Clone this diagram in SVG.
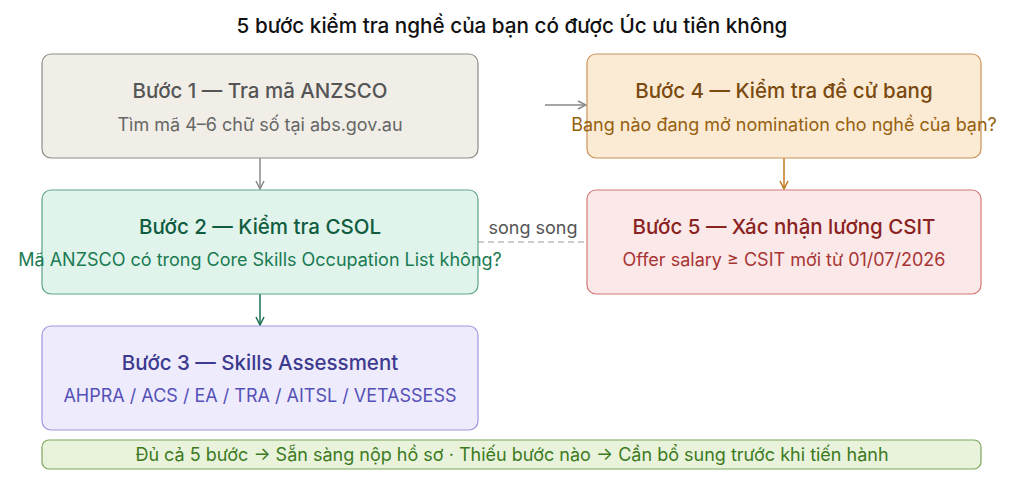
<svg xmlns="http://www.w3.org/2000/svg" width="1024" height="485" viewBox="0 0 1024 485">
<style>
text{font-family:Inter,"Liberation Sans",Arial,sans-serif;text-anchor:middle}
.h{font-size:20.7px;font-weight:500}
.t{font-size:20.5px;font-weight:500}
.s{font-size:18px}
.box{stroke-width:1.2}
</style>
<defs>
<marker id="ag" viewBox="0 0 10 10" refX="9" refY="5" markerWidth="10" markerHeight="10" markerUnits="userSpaceOnUse" orient="auto"><path d="M1,1 L9,5 L1,9" fill="none" stroke="#888" stroke-width="1.5"/></marker>
<marker id="ao" viewBox="0 0 10 10" refX="9" refY="5" markerWidth="10" markerHeight="10" markerUnits="userSpaceOnUse" orient="auto"><path d="M1,1 L9,5 L1,9" fill="none" stroke="#c07a20" stroke-width="1.5"/></marker>
<marker id="agr" viewBox="0 0 10 10" refX="9" refY="5" markerWidth="10" markerHeight="10" markerUnits="userSpaceOnUse" orient="auto"><path d="M1,1 L9,5 L1,9" fill="none" stroke="#1a7050" stroke-width="1.5"/></marker>
</defs>
<rect width="1024" height="485" fill="#ffffff"/>
<text x="512" y="33" class="h" fill="#111">5 bước kiểm tra nghề của bạn có được Úc ưu tiên không</text>
<g id="connectors">
<line x1="260" y1="158" x2="260" y2="189" stroke="#888" stroke-width="1.5" marker-end="url(#ag)"/>
<line x1="545" y1="105" x2="586" y2="105" stroke="#888" stroke-width="1.5" marker-end="url(#ag)"/>
<line x1="784" y1="158" x2="784" y2="189" stroke="#c07a20" stroke-width="1.5" marker-end="url(#ao)"/>
<line x1="260" y1="294" x2="260" y2="325" stroke="#1a7050" stroke-width="1.5" marker-end="url(#agr)"/>
<line x1="478" y1="242" x2="587" y2="242" stroke="#999" stroke-width="1.2" stroke-dasharray="6,4"/>
<text x="533" y="234" class="s" fill="#555">song song</text>
</g>
<g id="step1">
<rect x="42" y="54" width="436" height="104" rx="9" fill="#f1eee8" stroke="#8f8c86" class="box"/>
<text x="260" y="98" class="t" fill="#555">Bước 1 — Tra mã ANZSCO</text>
<text x="260" y="131" class="s" fill="#666">Tìm mã 4–6 chữ số tại abs.gov.au</text>
</g>
<g id="step4">
<rect x="587" y="54" width="394" height="104" rx="9" fill="#fcebd4" stroke="#c89458" class="box"/>
<text x="784" y="98" class="t" fill="#7a4a10">Bước 4 — Kiểm tra đề cử bang</text>
<text x="784" y="131" class="s" fill="#96600f">Bang nào đang mở nomination cho nghề của bạn?</text>
</g>
<g id="step2">
<rect x="42" y="190" width="436" height="104" rx="9" fill="#e0f4ec" stroke="#5fa585" class="box"/>
<text x="260" y="234" class="t" fill="#105c40">Bước 2 — Kiểm tra CSOL</text>
<text x="260" y="266" class="s" fill="#1a7a52">Mã ANZSCO có trong Core Skills Occupation List không?</text>
</g>
<g id="step5">
<rect x="587" y="190" width="394" height="104" rx="9" fill="#fbe8e8" stroke="#d27878" class="box"/>
<text x="784" y="234" class="t" fill="#8a2222">Bước 5 — Xác nhận lương CSIT</text>
<text x="784" y="266" class="s" fill="#a83535">Offer salary ≥ CSIT mới từ 01/07/2026</text>
</g>
<g id="step3">
<rect x="42" y="326" width="436" height="104" rx="9" fill="#eeecfc" stroke="#9c97e0" class="box"/>
<text x="260" y="370" class="t" fill="#3d3a8f">Bước 3 — Skills Assessment</text>
<text x="260" y="402" class="s" fill="#5550b8">AHPRA / ACS / EA / TRA / AITSL / VETASSESS</text>
</g>
<g id="summary">
<rect x="42" y="440" width="939" height="29" rx="7" fill="#e9f3dc" stroke="#7fa55a" class="box"/>
<text x="512" y="461" class="s" fill="#3d7a1e">Đủ cả 5 bước → Sẵn sàng nộp hồ sơ · Thiếu bước nào → Cần bổ sung trước khi tiến hành</text>
</g>
</svg>
